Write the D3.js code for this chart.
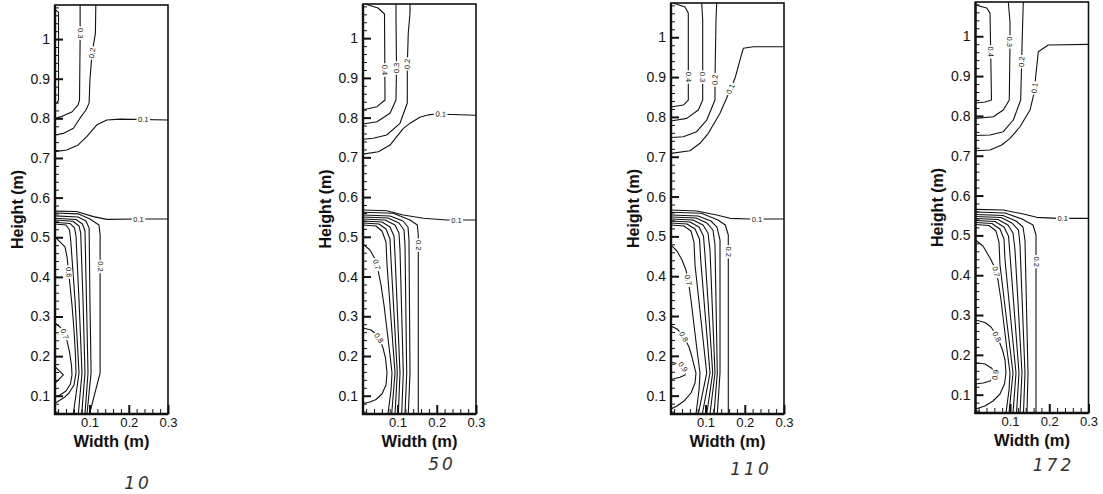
<!DOCTYPE html>
<html>
<head>
<meta charset="utf-8">
<script src="https://cdn.jsdelivr.net/npm/d3@7"></script>
<style>
  html, body { margin: 0; padding: 0; background: #fff; }
  svg { display: block; }
</style>
</head>
<body>
<svg id="chart" width="1103" height="494"></svg>
<script>
// Axis ticks (metres)
const widthTicks = [0.1, 0.2, 0.3];
const heightTicks = [0.1, 0.2, 0.3, 0.4, 0.5, 0.6, 0.7, 0.8, 0.9, 1.0];
const heightTickText = ["0.1", "0.2", "0.3", "0.4", "0.5", "0.6", "0.7", "0.8", "0.9", "1"];
const widthDomain = [0.012, 0.3];
const heightDomain = [0.054, 1.086];

// Handwritten run numbers under each panel
const runs = ["10", "50", "110", "172"];

// Contour lines, points as [width (m), height (m)].
// "at" gives the coordinate ("x" = width, "y" = height) where the inline label sits.
const contours10 = [
  { level: 0.4, pts: [[0.012,1.074],[0.021,1.068],[0.021,0.846],[0.017,0.839],[0.012,0.836]] },
  { level: 0.3, label: "0.3", at: ["y", 1.015], pts: [[0.076,1.086],[0.076,0.998],[0.0745,0.846],[0.071,0.834],[0.055,0.816],[0.030,0.805],[0.012,0.800]] },
  { level: 0.2, label: "0.2", at: ["y", 0.965], pts: [[0.116,1.086],[0.115,1.015],[0.106,0.960],[0.101,0.897],[0.099,0.839],[0.091,0.821],[0.076,0.801],[0.059,0.775],[0.033,0.762],[0.012,0.758]] },
  { level: 0.1, label: "0.1", at: ["x", 0.237], pts: [[0.012,0.716],[0.042,0.720],[0.071,0.733],[0.093,0.754],[0.118,0.783],[0.144,0.796],[0.178,0.798],[0.300,0.796]] },
  { level: 0.1, label: "0.1", at: ["x", 0.225], pts: [[0.012,0.566],[0.067,0.565],[0.110,0.552],[0.144,0.545],[0.220,0.546],[0.300,0.546]] },
  { level: 0.2, label: "0.2", at: ["y", 0.426], pts: [[0.012,0.561],[0.071,0.559],[0.101,0.546],[0.124,0.531],[0.127,0.506],[0.127,0.158],[0.100,0.054]] },
  { level: 0.3, pts: [[0.012,0.554],[0.071,0.551],[0.091,0.541],[0.099,0.523],[0.101,0.342],[0.104,0.158],[0.0935,0.054]] },
  { level: 0.35, pts: [[0.012,0.548],[0.0655,0.5448],[0.082,0.5335],[0.0884,0.5158],[0.0922,0.3417],[0.0961,0.1575],[0.0884,0.054]] },
  { level: 0.4, pts: [[0.012,0.5436],[0.0578,0.5403],[0.0731,0.5285],[0.0775,0.5108],[0.0834,0.3417],[0.0884,0.1575],[0.080,0.054]] },
  { level: 0.45, pts: [[0.012,0.5378],[0.0502,0.5348],[0.0617,0.5234],[0.0655,0.5032],[0.0732,0.3417],[0.0808,0.1575],[0.0714,0.054]] },
  { level: 0.5, pts: [[0.012,0.5335],[0.040,0.531],[0.049,0.5184],[0.052,0.4931],[0.063,0.3417],[0.0732,0.1575],[0.0586,0.054]] },
  { level: 0.6, label: "0.6", at: ["y", 0.412], pts: [[0.012,0.5007],[0.0247,0.4881],[0.0375,0.4755],[0.0426,0.4502],[0.0464,0.4174],[0.0502,0.3796],[0.0553,0.3291],[0.0604,0.266],[0.0642,0.2029],[0.0655,0.1575],[0.0604,0.1272],[0.0477,0.107],[0.0375,0.097],[0.0171,0.0843],[0.012,0.0818]] },
  { level: 0.7, label: "0.7", at: ["y", 0.256], pts: [[0.012,0.2837],[0.0247,0.2736],[0.0349,0.2584],[0.0426,0.2383],[0.049,0.2105],[0.054,0.1777],[0.0553,0.1524],[0.0515,0.1298],[0.040,0.1121],[0.0247,0.102],[0.012,0.097]] },
  { level: 0.8, pts: [[0.012,0.1734],[0.0332,0.1525],[0.012,0.1315]] }
];

const contours50 = [
  { level: 0.4, label: "0.4", at: ["y", 0.92], pts: [[0.0171,1.086],[0.0502,1.0759],[0.0668,1.0608],[0.0681,0.8443],[0.0477,0.8275],[0.012,0.8199]] },
  { level: 0.3, label: "0.3", at: ["y", 0.925], pts: [[0.0961,1.086],[0.0961,1.0534],[0.0974,0.9276],[0.0961,0.8443],[0.0808,0.8109],[0.0477,0.7897],[0.012,0.7839]] },
  { level: 0.2, label: "0.2", at: ["y", 0.935], pts: [[0.1318,1.086],[0.1318,1.0633],[0.1274,1.013],[0.1249,0.9324],[0.1249,0.8368],[0.1063,0.7857],[0.0724,0.7563],[0.0382,0.7479],[0.012,0.7454]] },
  { level: 0.1, label: "0.1", at: ["x", 0.21], pts: [[0.012,0.708],[0.051,0.714],[0.081,0.731],[0.098,0.752],[0.115,0.773],[0.132,0.786],[0.157,0.801],[0.179,0.807],[0.196,0.809],[0.300,0.806]] },
  { level: 0.1, label: "0.1", at: ["x", 0.25], pts: [[0.012,0.5675],[0.0724,0.5657],[0.1147,0.5549],[0.1657,0.5466],[0.2253,0.5423],[0.300,0.5423]] },
  { level: 0.2, label: "0.2", at: ["y", 0.479], pts: [[0.012,0.5617],[0.0892,0.5592],[0.1318,0.5423],[0.1504,0.5297],[0.1529,0.5045],[0.1529,0.054]] },
  { level: 0.3, pts: [[0.012,0.5549],[0.0808,0.5523],[0.1139,0.5398],[0.1267,0.5247],[0.1292,0.492],[0.1318,0.1572],[0.1274,0.054]] },
  { level: 0.35, pts: [[0.012,0.5498],[0.0757,0.5473],[0.1037,0.5347],[0.1165,0.5171],[0.119,0.4794],[0.1234,0.1572],[0.119,0.054]] },
  { level: 0.4, pts: [[0.012,0.5448],[0.0681,0.5423],[0.0936,0.5297],[0.1037,0.5096],[0.1063,0.4668],[0.1147,0.1572],[0.1106,0.054]] },
  { level: 0.45, pts: [[0.012,0.5398],[0.0604,0.5373],[0.0808,0.5247],[0.091,0.502],[0.0936,0.4542],[0.1063,0.1572],[0.102,0.054]] },
  { level: 0.5, pts: [[0.012,0.5347],[0.0528,0.5322],[0.0706,0.5196],[0.0808,0.4945],[0.0834,0.4416],[0.0994,0.1572],[0.0936,0.054]] },
  { level: 0.6, pts: [[0.012,0.5297],[0.0451,0.5272],[0.0604,0.5146],[0.0706,0.4869],[0.0732,0.429],[0.0936,0.1572],[0.0851,0.054]] },
  { level: 0.7, label: "0.7", at: ["y", 0.43], pts: [[0.012,0.4819],[0.0298,0.4668],[0.0426,0.4441],[0.0502,0.4164],[0.0579,0.3787],[0.0655,0.3283],[0.0732,0.2654],[0.0808,0.2025],[0.0859,0.1572],[0.0834,0.1144],[0.0757,0.054]] },
  { level: 0.8, label: "0.8", at: ["y", 0.245], pts: [[0.012,0.2705],[0.0324,0.2654],[0.0451,0.2554],[0.0553,0.2403],[0.063,0.2201],[0.0693,0.195],[0.0732,0.1572],[0.0706,0.127],[0.0604,0.1043],[0.0451,0.0905],[0.0298,0.0842],[0.012,0.0804]] }
];

const contours110 = [
  { level: 0.4, label: "0.4", at: ["y", 0.9], pts: [[0.0171,1.086],[0.0477,1.076],[0.0561,1.0608],[0.0561,0.8423],[0.0433,0.8298],[0.012,0.8248]] },
  { level: 0.3, label: "0.3", at: ["y", 0.9], pts: [[0.0902,1.086],[0.0928,1.0432],[0.0928,0.8423],[0.0816,0.8172],[0.052,0.7964],[0.012,0.7896]] },
  { level: 0.2, label: "0.2", at: ["y", 0.893], pts: [[0.1285,1.086],[0.1267,1.0432],[0.1241,0.8926],[0.1241,0.8423],[0.103,0.7921],[0.0775,0.7628],[0.0433,0.7502],[0.012,0.7482]] },
  { level: 0.1, label: "0.1", at: ["y", 0.87], pts: [[0.012,0.7085],[0.0604,0.7151],[0.0859,0.7337],[0.1071,0.7588],[0.1369,0.809],[0.1573,0.8549],[0.1751,0.8969],[0.1878,0.9428],[0.1963,0.9722],[0.2217,0.9762],[0.300,0.9762]] },
  { level: 0.1, label: "0.1", at: ["x", 0.231], pts: [[0.012,0.5662],[0.0775,0.5637],[0.1285,0.5536],[0.1624,0.5453],[0.2133,0.5436],[0.300,0.5436]] },
  { level: 0.2, label: "0.2", at: ["y", 0.4615], pts: [[0.012,0.5604],[0.0892,0.5579],[0.1318,0.5411],[0.1504,0.5285],[0.158,0.5034],[0.158,0.054]] },
  { level: 0.3, pts: [[0.012,0.5536],[0.0808,0.5511],[0.1139,0.5386],[0.1292,0.5235],[0.1369,0.4909],[0.1369,0.1569],[0.13,0.054]] },
  { level: 0.35, pts: [[0.012,0.5486],[0.0757,0.5461],[0.1037,0.5335],[0.119,0.516],[0.1241,0.4783],[0.13,0.1569],[0.1216,0.054]] },
  { level: 0.4, pts: [[0.012,0.5436],[0.0681,0.5411],[0.0936,0.5285],[0.1063,0.5084],[0.1114,0.4658],[0.1241,0.1569],[0.1114,0.054]] },
  { level: 0.45, pts: [[0.012,0.5386],[0.0604,0.5361],[0.0834,0.5235],[0.0948,0.5009],[0.0986,0.4532],[0.1183,0.1569],[0.103,0.054]] },
  { level: 0.5, pts: [[0.012,0.5335],[0.0528,0.531],[0.0732,0.5185],[0.0846,0.4934],[0.0877,0.4406],[0.1114,0.1569],[0.0918,0.054]] },
  { level: 0.6, pts: [[0.012,0.5285],[0.0451,0.526],[0.063,0.5135],[0.0706,0.4858],[0.0732,0.4281],[0.103,0.1569],[0.0816,0.054]] },
  { level: 0.7, label: "0.7", at: ["y", 0.39], pts: [[0.012,0.4783],[0.0273,0.4633],[0.0401,0.4406],[0.0502,0.4155],[0.0566,0.3854],[0.063,0.3402],[0.0706,0.2775],[0.0783,0.2147],[0.0859,0.1569],[0.0834,0.1143],[0.0757,0.054]] },
  { level: 0.8, label: "0.8", at: ["y", 0.248], pts: [[0.012,0.2749],[0.0273,0.2674],[0.0401,0.2549],[0.049,0.2398],[0.0579,0.2222],[0.0655,0.1971],[0.0706,0.177],[0.0757,0.1569],[0.0732,0.1318],[0.063,0.1067],[0.0451,0.0866],[0.0273,0.0741],[0.012,0.0666]] },
  { level: 0.9, label: "0.9", at: ["y", 0.172], pts: [[0.012,0.1846],[0.0306,0.1795],[0.0418,0.1728],[0.0495,0.1627],[0.0477,0.1519],[0.0349,0.1461],[0.012,0.1406]] }
];

const contours172 = [
  { level: 0.4, label: "0.4", at: ["y", 0.961], pts: [[0.012,1.0784],[0.0405,1.0708],[0.049,1.0582],[0.0528,0.8398],[0.0362,0.8348],[0.012,0.8323]] },
  { level: 0.3, label: "0.3", at: ["y", 0.986], pts: [[0.0956,1.086],[0.0999,1.0366],[0.0999,0.9789],[0.0981,0.8398],[0.0828,0.8147],[0.0574,0.7979],[0.012,0.7939]] },
  { level: 0.2, label: "0.2", at: ["y", 0.936], pts: [[0.1338,1.086],[0.1323,1.0366],[0.1297,0.9403],[0.1272,0.8398],[0.1083,0.7897],[0.0828,0.7603],[0.049,0.752],[0.012,0.7507]] },
  { level: 0.1, label: "0.1", at: ["y", 0.87], pts: [[0.012,0.7126],[0.049,0.7143],[0.0788,0.7269],[0.1,0.7437],[0.1254,0.7728],[0.1509,0.8147],[0.1611,0.8567],[0.168,0.9234],[0.172,0.9611],[0.1975,0.978],[0.300,0.9797]] },
  { level: 0.1, label: "0.1", at: ["x", 0.234], pts: [[0.012,0.5654],[0.0829,0.5637],[0.1338,0.5536],[0.168,0.5453],[0.223,0.5428],[0.300,0.5428]] },
  { level: 0.2, label: "0.2", at: ["y", 0.434], pts: [[0.012,0.5587],[0.0872,0.5562],[0.1305,0.5411],[0.1585,0.526],[0.1662,0.5009],[0.1662,0.054]] },
  { level: 0.3, pts: [[0.012,0.5524],[0.0821,0.5499],[0.1152,0.5361],[0.133,0.521],[0.1381,0.4883],[0.1458,0.1544],[0.1432,0.054]] },
  { level: 0.35, pts: [[0.012,0.5473],[0.077,0.5448],[0.105,0.531],[0.1216,0.5135],[0.1254,0.4758],[0.1381,0.1544],[0.1343,0.054]] },
  { level: 0.4, pts: [[0.012,0.5423],[0.0693,0.5398],[0.0948,0.526],[0.1076,0.5059],[0.1127,0.4632],[0.1305,0.1544],[0.1254,0.054]] },
  { level: 0.45, pts: [[0.012,0.5373],[0.0617,0.5348],[0.0846,0.521],[0.0961,0.4984],[0.0999,0.4507],[0.1229,0.1544],[0.1165,0.054]] },
  { level: 0.5, pts: [[0.012,0.5323],[0.054,0.5298],[0.0744,0.516],[0.0846,0.4909],[0.0872,0.4381],[0.1152,0.1544],[0.1076,0.054]] },
  { level: 0.6, pts: [[0.012,0.5273],[0.0464,0.5248],[0.0642,0.5109],[0.0719,0.4833],[0.0744,0.4256],[0.1076,0.1544],[0.0974,0.054]] },
  { level: 0.7, label: "0.7", at: ["y", 0.409], pts: [[0.012,0.4883],[0.0311,0.4733],[0.049,0.4431],[0.0617,0.418],[0.0693,0.3879],[0.077,0.3377],[0.0846,0.2749],[0.0923,0.2122],[0.0999,0.1544],[0.0974,0.1117],[0.0897,0.054]] },
  { level: 0.8, label: "0.8", at: ["y", 0.2456], pts: [[0.012,0.2875],[0.0362,0.2812],[0.0515,0.2699],[0.0617,0.2549],[0.0719,0.2348],[0.0808,0.2122],[0.0872,0.1871],[0.0897,0.1544],[0.0859,0.1268],[0.0744,0.1017],[0.0566,0.0841],[0.0362,0.0716],[0.012,0.064]] },
  { level: 0.9, label: "0.9", at: ["y", 0.15], pts: [[0.012,0.1803],[0.0362,0.177],[0.0533,0.1662],[0.0635,0.1552],[0.0617,0.1444],[0.049,0.1343],[0.0311,0.1293],[0.012,0.1268]] }
];

const panelContours = [contours10, contours50, contours110, contours172];

// Page layout for the four panels
const plotWidth = 113;
const layout = [
  { left: 55,    top: 5, bottom: 414, note: [83, 75] },
  { left: 363,   top: 4, bottom: 414, note: [79, 56] },
  { left: 671,   top: 3, bottom: 414, note: [80, 61] },
  { left: 975.5, top: 2, bottom: 413, note: [78, 58] }
];

const FONT = "'Liberation Sans', Arial, Helvetica, sans-serif";
const svg = d3.select("#chart");

function labelSpot(pts, axis, value) {
  const k = axis === "x" ? 0 : 1;
  for (let i = 0; i < pts.length - 1; i++) {
    const a = pts[i], b = pts[i + 1];
    if ((a[k] - value) * (b[k] - value) <= 0 && a[k] !== b[k]) {
      const t = (value - a[k]) / (b[k] - a[k]);
      return { p: [a[0] + t * (b[0] - a[0]), a[1] + t * (b[1] - a[1])], a, b };
    }
  }
  return null;
}

panelContours.forEach((contours, pi) => {
  const L = layout[pi];
  const x = d3.scaleLinear().domain(widthDomain).range([L.left, L.left + plotWidth]);
  const y = d3.scaleLinear().domain(heightDomain).range([L.bottom, L.top]);
  const g = svg.append("g");

  const clipId = "clip" + pi;
  svg.append("clipPath").attr("id", clipId)
    .append("rect")
    .attr("x", L.left).attr("y", L.top)
    .attr("width", plotWidth).attr("height", L.bottom - L.top);

  const line = d3.line().x(d => x(d[0])).y(d => y(d[1]));

  // contour lines
  const lg = g.append("g").attr("clip-path", `url(#${clipId})`);
  lg.selectAll("path")
    .data(contours)
    .join("path")
    .attr("d", d => line(d.pts))
    .attr("fill", "none")
    .attr("stroke", "#111")
    .attr("stroke-width", 1.1)
    .attr("stroke-linejoin", "round");

  // inline contour labels
  contours.filter(c => c.label).forEach(c => {
    const s = labelSpot(c.pts, c.at[0], c.at[1]);
    if (!s) return;
    const px = x(s.p[0]), py = y(s.p[1]);
    let ang = Math.atan2(y(s.b[1]) - y(s.a[1]), x(s.b[0]) - x(s.a[0])) * 180 / Math.PI;
    if (ang > 90) ang -= 180;
    if (ang <= -90) ang += 180;
    const tg = lg.append("g").attr("transform", `translate(${px},${py}) rotate(${ang})`);
    const bg = tg.append("rect").attr("fill", "#fff");
    const t = tg.append("text")
      .attr("text-anchor", "middle")
      .attr("dominant-baseline", "central")
      .attr("font-family", FONT)
      .attr("font-size", 7.5)
      .attr("fill", "#111")
      .text(c.label);
    const bb = t.node().getBBox();
    bg.attr("x", bb.x - 1.5).attr("y", bb.y + 1).attr("width", bb.width + 3).attr("height", bb.height - 2);
  });

  // frame
  g.append("rect")
    .attr("x", L.left).attr("y", L.top)
    .attr("width", plotWidth).attr("height", L.bottom - L.top)
    .attr("fill", "none").attr("stroke", "#111").attr("stroke-width", 1.6);

  // left axis: major ticks point into the plot
  const yAxis = d3.axisLeft(y)
    .tickValues(heightTicks)
    .tickSize(-8)
    .tickPadding(5)
    .tickFormat((d, i) => heightTickText[i]);
  const ya = g.append("g").attr("transform", `translate(${L.left},0)`).call(yAxis);
  ya.select(".domain").remove();
  ya.selectAll(".tick line").attr("stroke", "#111").attr("stroke-width", 2);
  ya.selectAll(".tick text").attr("font-family", FONT).attr("font-size", 14).attr("fill", "#111");

  const yMinor = d3.axisLeft(y)
    .tickValues(d3.range(0.06, 1.081, 0.02).filter(v => Math.abs(v * 10 - Math.round(v * 10)) > 1e-6))
    .tickSize(-4)
    .tickFormat("");
  const ym = g.append("g").attr("transform", `translate(${L.left},0)`).call(yMinor);
  ym.select(".domain").remove();
  ym.selectAll(".tick line").attr("stroke", "#111").attr("stroke-width", 1);

  // bottom axis
  const xAxis = d3.axisBottom(x)
    .tickValues(widthTicks)
    .tickSize(-9)
    .tickPadding(4)
    .tickFormat(d3.format(".1f"));
  const xa = g.append("g").attr("transform", `translate(0,${L.bottom})`).call(xAxis);
  xa.select(".domain").remove();
  xa.selectAll(".tick line").attr("stroke", "#111").attr("stroke-width", 2);
  xa.selectAll(".tick text").attr("font-family", FONT).attr("font-size", 13).attr("fill", "#111");

  const xMinor = d3.axisBottom(x)
    .tickValues(d3.range(0.02, 0.291, 0.02).filter(v => Math.abs(v * 10 - Math.round(v * 10)) > 1e-6))
    .tickSize(-5)
    .tickFormat("");
  const xm = g.append("g").attr("transform", `translate(0,${L.bottom})`).call(xMinor);
  xm.select(".domain").remove();
  xm.selectAll(".tick line").attr("stroke", "#111").attr("stroke-width", 1);

  // heavier left and bottom axis lines
  g.append("line").attr("x1", L.left).attr("x2", L.left).attr("y1", L.top).attr("y2", L.bottom + 1)
    .attr("stroke", "#111").attr("stroke-width", 2.4);
  g.append("line").attr("x1", L.left - 1).attr("x2", L.left + plotWidth).attr("y1", L.bottom).attr("y2", L.bottom)
    .attr("stroke", "#111").attr("stroke-width", 2.4);

  // axis titles
  g.append("text")
    .attr("transform", `translate(${L.left - 38},${(L.top + L.bottom) / 2}) rotate(-90)`)
    .attr("text-anchor", "middle")
    .attr("dominant-baseline", "central")
    .attr("font-family", FONT).attr("font-weight", "bold").attr("font-size", 16)
    .attr("fill", "#111")
    .text("Height (m)");
  g.append("text")
    .attr("x", L.left + plotWidth / 2).attr("y", L.bottom + 33)
    .attr("text-anchor", "middle")
    .attr("font-family", FONT).attr("font-weight", "bold").attr("font-size", 16.5)
    .attr("fill", "#111")
    .text("Width (m)");

  // run number written under the panel
  g.append("text")
    .attr("x", L.left + L.note[0]).attr("y", L.bottom + L.note[1])
    .attr("text-anchor", "middle")
    .attr("font-family", "'DejaVu Sans', sans-serif")
    .attr("font-weight", 200)
    .attr("font-style", "italic")
    .attr("font-size", 17)
    .attr("letter-spacing", 3)
    .attr("fill", "#333")
    .text(runs[pi]);
});
</script>
</body>
</html>
